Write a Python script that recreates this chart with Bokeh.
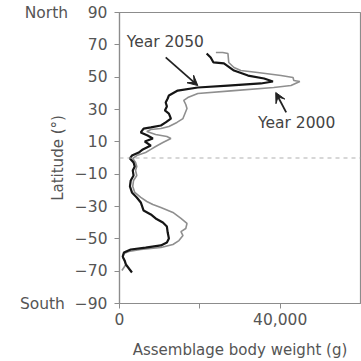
from bokeh.plotting import figure
from bokeh.models import Range1d, FixedTicker, Span, Label, Arrow, VeeHead
from bokeh.embed import file_html
from bokeh.resources import INLINE

# Latitude (deg) and assemblage body weight (g)
lat_2050 = [64.6, 62.2, 59.1, 58.5, 54.1, 51.0, 49.2, 47.3, 46.1, 44.8, 43.6, 41.7, 38.7, 36.8,
            34.3, 31.9, 29.4, 27.5, 24.4, 22.0, 20.1, 18.9, 18.2, 15.8, 13.9, 12.1, 10.2, 7.7,
            5.3, 3.4, 1.5, -0.3, -2.8, -5.3, -7.7, -10.8, -13.9, -17.6, -21.3, -24.4, -27.5,
            -32.5, -34.9, -37.4, -39.9, -42.4, -46.1, -49.8, -52.3, -54.1, -55.4, -56.6, -58.5,
            -61.0, -63.5, -65.9, -70.8]
w_2050 = [21700, 22700, 23400, 26000, 28500, 32000, 36000, 38200, 35200, 27000, 19500, 14500,
          12300, 12000, 11500, 11800, 11300, 12300, 12800, 11500, 10300, 7800, 6000, 5300, 7000,
          8300, 6300, 7800, 5800, 4800, 3100, 2600, 3500, 3800, 3300, 3500, 2800, 2600, 3100,
          4300, 5300, 6000, 7800, 9000, 10800, 11800, 12000, 12300, 11800, 10300, 6500, 2800,
          1100, 800, 1300, 1600, 3100]

lat_2000 = [65.3, 65.3, 64.6, 59.1, 56.0, 54.1, 52.9, 51.0, 49.8, 47.9, 47.3, 44.8, 43.6, 41.7,
            39.9, 37.4, 35.6, 33.1, 30.6, 27.5, 24.4, 22.0, 19.5, 18.2, 17.6, 16.4, 14.5, 13.3,
            12.1, 9.6, 7.1, 5.3, 3.4, 1.5, -0.3, -2.8, -5.3, -7.7, -10.8, -13.9, -17.6, -21.3,
            -24.4, -26.9, -28.8, -30.6, -33.7, -37.4, -40.5, -43.6, -45.5, -48.0, -51.1, -53.5,
            -55.4, -56.6, -57.8, -59.1, -61.6, -64.0, -65.9, -69.6]
w_2000 = [24000, 25700, 27000, 27200, 28500, 30200, 34400, 40200, 43200, 43400, 44900, 42700,
          38400, 28500, 19500, 17000, 16000, 16500, 16800, 16300, 15800, 14300, 12300, 10300,
          7800, 6800, 9000, 11800, 12800, 10800, 9000, 7800, 6500, 4300, 3300, 4000, 4300, 4000,
          4300, 3500, 3300, 3800, 5300, 6800, 8300, 10300, 13300, 15300, 16800, 16500, 15300,
          15800, 14800, 13300, 10300, 5300, 2300, 1100, 800, 1300, 1600, 600]

NB = "\u00a0"
y_ticks = [-90, -70, -50, -30, -10, 10, 30, 50, 70, 90]
y_tick_labels = ["South" + NB * 2 + "\u221290", "\u221270", "\u221250", "\u221230", "\u221210",
                 "10", "30", "50", "70", "North" + NB * 4 + "90"]
x_ticks = [0, 20000, 40000]
x_tick_labels = ["0", "", "40,000"]

FONT = "DejaVu Sans"
TXT = "#555555"
AX = "#8c8c8c"

p = figure(width=361, height=361, output_backend="svg", toolbar_location=None,
           x_range=Range1d(0, 60000), y_range=Range1d(-90, 90),
           min_border_top=12, min_border_right=1, min_border_left=119, min_border_bottom=58)
p.grid.visible = False
p.outline_line_color = AX
p.outline_line_width = 1.2
p.background_fill_color = "white"
p.border_fill_color = "white"

for ax in (p.xaxis[0], p.yaxis[0]):
    ax.axis_line_color = AX
    ax.axis_line_width = 1.2
    ax.major_tick_line_color = AX
    ax.major_tick_out = 5
    ax.major_tick_in = 0
    ax.minor_tick_line_color = None
    ax.major_label_text_font = FONT
    ax.major_label_text_font_size = "15.5px"
    ax.major_label_text_color = TXT
    ax.axis_label_text_font = FONT
    ax.axis_label_text_font_size = "15px"
    ax.axis_label_text_font_style = "normal"
    ax.axis_label_text_color = TXT

p.yaxis.ticker = FixedTicker(ticks=y_ticks)
p.yaxis.major_label_overrides = dict(zip(y_ticks, y_tick_labels))
p.yaxis.axis_label = "Latitude (\u00b0)"
p.yaxis.axis_label_standoff = -50
p.yaxis.major_label_standoff = 7

p.xaxis.ticker = FixedTicker(ticks=x_ticks)
p.xaxis.major_label_overrides = dict(zip(x_ticks, x_tick_labels))
p.xaxis.axis_label = "Assemblage body weight (g)"
p.xaxis.axis_label_standoff = 13
p.xaxis.major_label_standoff = 4

p.add_layout(Span(location=0, dimension="width", line_color="#b0b0b0",
                  line_dash="4 4", line_width=1.2))

p.line(w_2000, lat_2000, line_color="#8f8f8f", line_width=1.6)
p.line(w_2050, lat_2050, line_color="#151515", line_width=2.2)

p.add_layout(Label(x=1800, y=72, text="Year 2050", text_font=FONT, text_font_size="15.5px",
                   text_color="#444444", text_baseline="middle", text_align="left"))
p.add_layout(Label(x=34500, y=21.5, text="Year 2000", text_font=FONT, text_font_size="15.5px",
                   text_color="#444444", text_baseline="middle", text_align="left"))

p.add_layout(Arrow(x_start=11500, y_start=62.2, x_end=19500, y_end=44.8,
                   line_color="#222222", line_width=1.8,
                   end=VeeHead(size=10, fill_color="#222222", line_color="#222222")))
p.add_layout(Arrow(x_start=41500, y_start=28.2, x_end=38900, y_end=40.5,
                   line_color="#222222", line_width=1.8,
                   end=VeeHead(size=10, fill_color="#222222", line_color="#222222")))

open("out.html", "w").write(file_html(p, INLINE))
